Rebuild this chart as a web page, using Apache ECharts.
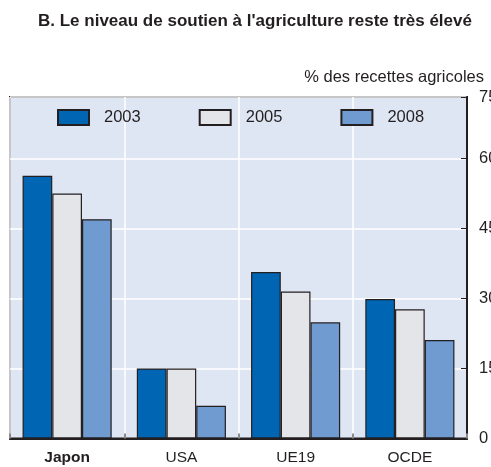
<!DOCTYPE html>
<html>
<head>
<meta charset="utf-8">
<script src="https://cdn.jsdelivr.net/npm/echarts@6/dist/echarts.min.js"></script>
<style>
html,body{margin:0;padding:0;background:#fff;}
#c{width:491px;height:467px;}
</style>
</head>
<body>
<div id="c"></div>
<script>
const categories = ['Japon', 'USA', 'UE19', 'OCDE'];
const seriesNames = ['2003', '2005', '2008'];
const values2003 = [56.3, 15.0, 35.7, 29.9];
const values2005 = [52.5, 15.0, 31.5, 27.7];
const values2008 = [47.0, 7.0, 24.9, 21.1];
const yTickLabels = ['0', '15', '30', '45', '60', '75'];
const titleText = "B. Le niveau de soutien à l'agriculture reste très élevé";
const unitText = '% des recettes agricoles';

const FONT = "'Liberation Sans', Arial, sans-serif";
const colors = ['#0066b3', '#e4e5e8', '#709bd1'];
const seriesValues = [values2003, values2005, values2008];

const chart = echarts.init(document.getElementById('c'), null, {renderer: 'canvas'});
chart.setOption({
  animation: false,
  backgroundColor: '#ffffff',
  textStyle: {fontFamily: FONT},
  title: [
    {text: titleText, left: 33, top: 8,
     textStyle: {fontFamily: FONT, fontSize: 17, fontWeight: 'bold', color: '#231f20'}},
    {text: unitText, right: 2, top: 64,
     textStyle: {fontFamily: FONT, fontSize: 16.5, fontWeight: 'normal', color: '#231f20'}}
  ],
  legend: {
    data: seriesNames, left: 57, top: 109, itemWidth: 31, itemHeight: 15, itemGap: 58,
    padding: 0, icon: 'rect',
    textStyle: {fontFamily: FONT, fontSize: 16.5, color: '#231f20', padding: [0, 0, 0, 10]}
  },
  grid: {
    left: 10, top: 97, width: 457, bottom: 28.5,
    show: true, backgroundColor: '#dfe6f3', borderColor: '#231f20', borderWidth: 2,
    containLabel: false, outerBoundsMode: 'none'
  },
  xAxis: {
    type: 'category', data: categories,
    axisLine: {show: true, lineStyle: {color: '#231f20', width: 2}},
    axisTick: {show: true, inside: true, length: 5, lineStyle: {color: '#8a8a8a', width: 2}},
    splitLine: {show: true, lineStyle: {color: '#ffffff', width: 1.5}},
    axisLabel: {
      margin: 11, fontFamily: FONT, fontSize: 15.5, color: '#231f20',
      formatter: (v) => v === categories[0] ? '{b|' + v + '}' : v,
      rich: {b: {fontFamily: FONT, fontSize: 15.5, fontWeight: 'bold', color: '#231f20'}}
    }
  },
  yAxis: {
    type: 'value', position: 'right', min: 0, max: 73.2, interval: 15,
    axisLine: {show: true, lineStyle: {color: '#231f20', width: 2}},
    axisTick: {show: true, inside: true, length: 6, lineStyle: {color: '#231f20', width: 1}},
    splitLine: {show: true, lineStyle: {color: '#ffffff', width: 1.5}},
    axisLabel: {
      margin: 12, fontFamily: FONT, fontSize: 16.5, color: '#231f20',
      showMaxLabel: true,
      formatter: (v, i) => yTickLabels[i]
    }
  },
  series: seriesNames.map((name, k) => ({
    name: name, type: 'bar', data: seriesValues[k],
    barGap: 0, barCategoryGap: '22%',
    itemStyle: {color: colors[k], borderColor: '#231f20', borderWidth: 1.2}
  }))
});
</script>
</body>
</html>
